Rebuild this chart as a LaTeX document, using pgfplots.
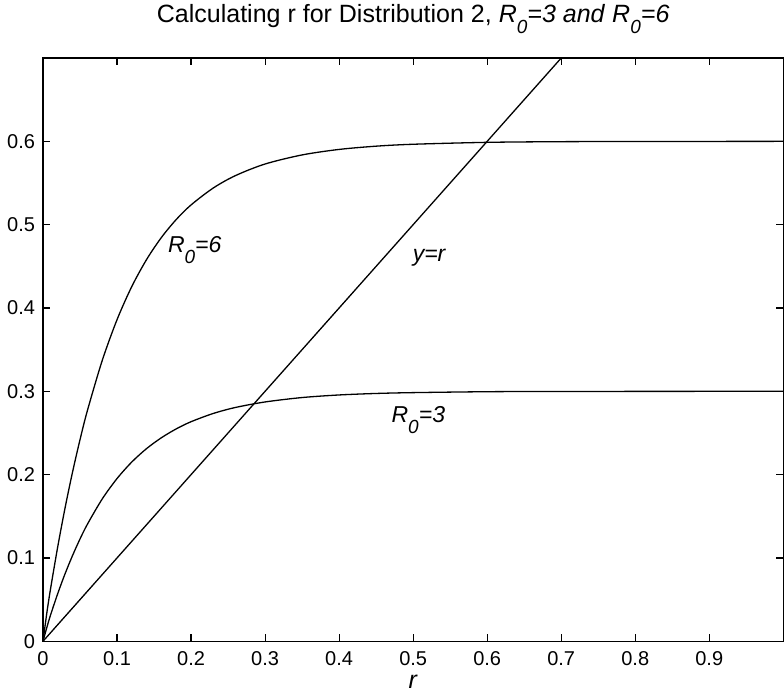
\documentclass[border=0pt]{standalone}
\usepackage{fontspec}
\setmainfont{Liberation Sans}
\usepackage{pgfplots}
\pgfplotsset{compat=1.18}
% MATLAB-style lowered subscript
\newcommand\Rsub{\textit{R}\raisebox{-5.5pt}{\fontsize{9.5}{11}\selectfont\textit{0}}}

\begin{document}
\begin{tikzpicture}
\begin{axis}[name=ax,
  scale only axis, width=370pt, height=291.5pt,
  xmin=0, xmax=1, ymin=0, ymax=0.7,
  xtick={0,0.1,...,0.9}, ytick={0,0.1,...,0.6},
  tick align=inside, major tick length=3.5pt,
  axis line style={line width=0.7pt}, tick style={line width=0.6pt, black},
  /pgf/number format/assume math mode=true,
  /pgf/number format/fixed, /pgf/number format/precision=1,
  tick label style={font=\fontsize{10}{12}\selectfont},
  xticklabel style={yshift=-1.5pt},
  yticklabel style={xshift=-0.5pt},
  xlabel={\textit{r}},
  xlabel style={font=\fontsize{12.5}{14}\selectfont, inner sep=0pt, at={(0.5,0)}, anchor=base, yshift=-23.5pt},
  title={Calculating r for Distribution 2, \Rsub\textit{=3 and }\Rsub\textit{=6}},
  title style={font=\fontsize{12.5}{14}\selectfont, inner sep=0pt, at={(0.5,1)}, anchor=base, yshift=12pt},
]
% y = r
\addplot[black, line width=0.65pt] coordinates {(0,0) (0.7,0.7)};
% R0 = 6
\addplot[black, line width=0.65pt, smooth] coordinates {
(0,0) (0.005,0.0330) (0.01,0.0620) (0.02,0.1140) (0.03,0.1610) (0.04,0.2035)
(0.05,0.2420) (0.06,0.2770) (0.08,0.3370) (0.10,0.3860) (0.12,0.4259)
(0.14,0.4583) (0.16,0.4847) (0.18,0.5062) (0.20,0.5237) (0.23,0.5440)
(0.26,0.5589) (0.30,0.5728) (0.35,0.5837) (0.40,0.5903) (0.45,0.5942)
(0.50,0.5965) (0.60,0.5988) (0.70,0.5996) (0.80,0.5998) (1.00,0.6000)};
% R0 = 3
\addplot[black, line width=0.65pt, smooth] coordinates {
(0,0) (0.005,0.0160) (0.01,0.0310) (0.02,0.0575) (0.03,0.0815) (0.04,0.1031)
(0.05,0.1228) (0.06,0.1405) (0.08,0.1708) (0.10,0.1953) (0.12,0.2152)
(0.14,0.2313) (0.16,0.2443) (0.18,0.2549) (0.20,0.2635) (0.23,0.2734)
(0.26,0.2806) (0.30,0.2872) (0.35,0.2925) (0.40,0.2956) (0.45,0.2974)
(0.50,0.2984) (0.60,0.2995) (0.70,0.2998) (1.00,0.3000)};
\node[font=\fontsize{11.5}{13}\selectfont, anchor=base, inner sep=0pt] at (axis cs:0.205,0.466) {\Rsub\textit{=6}};
\node[font=\fontsize{11.5}{13}\selectfont, anchor=base, inner sep=0pt] at (axis cs:0.522,0.456) {\textit{y=r}};
\node[font=\fontsize{11.5}{13}\selectfont, anchor=base, inner sep=0pt] at (axis cs:0.507,0.263) {\Rsub\textit{=3}};
\end{axis}
\path (ax.south west) ++(-21.5pt,-25.5pt) (ax.north east) ++(0,29pt);
\end{tikzpicture}
\end{document}
